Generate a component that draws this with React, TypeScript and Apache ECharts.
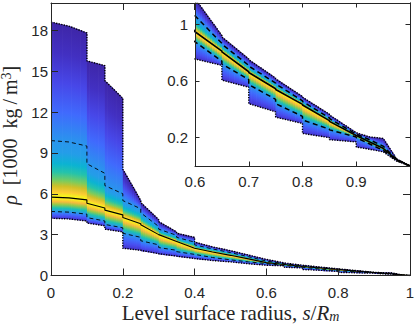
import React, { useEffect, useRef } from 'react';
import * as echarts from 'echarts';

// Level surface radius samples (duplicated x = step between radial bins)
const xs = [0, 0.05, 0.1, 0.1, 0.15, 0.15, 0.2, 0.2, 0.25, 0.25, 0.3, 0.3, 0.35, 0.35, 0.4, 0.4, 0.45, 0.5, 0.55, 0.6, 0.65, 0.65, 0.7, 0.7, 0.75, 0.75, 0.8, 0.8, 0.85, 0.85, 0.9, 0.9, 0.925, 0.95, 0.975, 1.0];
// density envelope and percentiles [1000 kg/m^3]
const rhoMax = [18.6, 18.3, 17.8, 15.75, 15.4, 14.3, 13.0, 7.8, 5.5, 5.35, 4.1, 3.95, 3.2, 3.1, 2.8, 2.45, 2.1, 1.82, 1.5, 1.18, 0.92, 0.91, 0.755, 0.75, 0.62, 0.615, 0.49, 0.485, 0.365, 0.36, 0.235, 0.232, 0.205, 0.195, 0.05, 0];
const rhoHi = [9.9, 9.8, 9.5, 8.2, 7.5, 6.6, 6.0, 5.5, 4.9, 4.6, 3.6, 3.4, 2.95, 2.8, 2.45, 2.25, 1.95, 1.68, 1.38, 1.06, 0.865, 0.86, 0.71, 0.705, 0.585, 0.58, 0.46, 0.455, 0.34, 0.335, 0.225, 0.222, 0.185, 0.14, 0.048, 0];
const rhoMed = [5.75, 5.7, 5.55, 5.3, 4.95, 4.8, 4.45, 4.25, 3.8, 3.72, 3.0, 2.95, 2.5, 2.45, 2.0, 1.97, 1.72, 1.48, 1.22, 0.947, 0.81, 0.805, 0.665, 0.66, 0.545, 0.54, 0.435, 0.43, 0.32, 0.315, 0.215, 0.212, 0.17, 0.125, 0.045, 0];
const rhoLo = [4.7, 4.65, 4.5, 4.25, 4.0, 3.75, 3.5, 3.1, 2.8, 2.55, 2.25, 2.05, 1.85, 1.75, 1.55, 1.5, 1.32, 1.15, 1.0, 0.876, 0.74, 0.72, 0.61, 0.575, 0.47, 0.44, 0.35, 0.325, 0.26, 0.255, 0.205, 0.2, 0.155, 0.11, 0.04, 0];
const rhoMin = [4.2, 4.15, 4.0, 3.85, 3.65, 3.4, 3.2, 2.0, 1.85, 1.8, 1.6, 1.55, 1.42, 1.38, 1.25, 1.22, 1.1, 1.0, 0.86, 0.755, 0.71, 0.606, 0.556, 0.44, 0.382, 0.345, 0.30, 0.23, 0.20, 0.186, 0.17, 0.134, 0.118, 0.10, 0.035, 0];

const xTicks = [0, 0.2, 0.4, 0.6, 0.8, 1];
const yTicks = [0, 3, 6, 9, 12, 15, 18];
const insetXTicks = [0.6, 0.7, 0.8, 0.9, 1];
const insetXLabels = [0.6, 0.7, 0.8, 0.9];
const insetYTicks = [0.2, 0.6, 1];

// parula colormap anchors (style)
const PARULA: [number, number[]][] = [
  [0.0, [62, 38, 168]], [0.063, [69, 55, 213]], [0.127, [72, 77, 240]], [0.19, [69, 99, 253]],
  [0.254, [50, 124, 252]], [0.317, [43, 145, 239]], [0.381, [32, 165, 227]], [0.444, [8, 181, 208]],
  [0.508, [25, 191, 182]], [0.571, [55, 200, 151]], [0.635, [100, 205, 111]], [0.698, [157, 201, 67]],
  [0.762, [209, 191, 39]], [0.825, [248, 186, 61]], [0.889, [252, 207, 48]], [0.952, [246, 239, 32]],
  [1.0, [249, 251, 21]],
];
function parula(t: number): string {
  t = Math.max(0, Math.min(1, t));
  for (let k = 0; k < PARULA.length - 1; k++) {
    const [t0, c0] = PARULA[k];
    const [t1, c1] = PARULA[k + 1];
    if (t <= t1) {
      const f = (t - t0) / (t1 - t0);
      const c = c0.map((v, j) => Math.round(v + (c1[j] - v) * f));
      return `rgb(${c[0]},${c[1]},${c[2]})`;
    }
  }
  return 'rgb(249,251,21)';
}

const T_TOP = 0.0, T_HI = 0.33, T_LO = 0.33, T_BOT = 0.05;
function buildStops(mx: number, ph: number, md: number, pl: number, mn: number) {
  const H = mx - mn;
  const stops: { offset: number; color: string }[] = [];
  const push = (v: number, t: number) => {
    const o = Math.max(0, Math.min(1, (mx - v) / H));
    stops.push({ offset: o, color: parula(t) });
  };
  for (const k of [0, 0.25, 0.5, 0.75]) push(mx - (mx - ph) * k, T_TOP + (T_HI - T_TOP) * Math.pow(k, 1.6));
  for (const k of [0, 0.2, 0.4, 0.55, 0.7, 0.8, 0.9, 0.96]) push(ph - (ph - md) * k, T_HI + (1 - T_HI) * Math.pow(k, 2));
  for (const k of [0, 0.15, 0.3, 0.5, 0.75]) push(md - (md - pl) * k, 1 - (1 - T_LO) * Math.pow(k, 1.1));
  for (const k of [0, 0.33, 0.66, 1]) push(pl - (pl - mn) * k, T_LO - (T_LO - T_BOT) * Math.pow(k, 0.8));
  return stops;
}

function renderBand(params: any, api: any) {
  const i = api.value(2);
  const x0 = xs[i], x1 = xs[i + 1];
  const p0 = api.coord([x0, 0]);
  const p1 = api.coord([x1, 0]);
  const n = Math.max(1, Math.ceil((p1[0] - p0[0]) / 2.5));
  const lerp = (arr: number[], f: number) => arr[i] + (arr[i + 1] - arr[i]) * f;
  const children: any[] = [];
  for (let j = 0; j < n; j++) {
    const fa = j / n, fb = (j + 1) / n, fm = (j + 0.5) / n;
    const xa = x0 + (x1 - x0) * fa, xb = x0 + (x1 - x0) * fb, xm = x0 + (x1 - x0) * fm;
    const A1 = api.coord([xa, lerp(rhoMax, fa)]);
    const B1 = api.coord([xb, lerp(rhoMax, fb)]);
    const B2 = api.coord([xb, lerp(rhoMin, fb)]);
    const A2 = api.coord([xa, lerp(rhoMin, fa)]);
    const mx = lerp(rhoMax, fm), ph = lerp(rhoHi, fm), md = lerp(rhoMed, fm), pl = lerp(rhoLo, fm), mn = lerp(rhoMin, fm);
    const T = api.coord([xm, mx]);
    const Bt = api.coord([xm, mn]);
    const ext = j < n - 1 ? 0.7 : 0.35;
    let fill: any;
    if (Bt[1] - T[1] < 0.5 || mx - mn <= 0) fill = parula(1);
    else fill = new echarts.graphic.LinearGradient(T[0], T[1], Bt[0], Bt[1], buildStops(mx, ph, md, pl, mn), true);
    children.push({
      type: 'polygon',
      shape: { points: [[A1[0], A1[1] - 0.2], [B1[0] + ext, B1[1] - 0.2], [B2[0] + ext, B2[1] + 0.2], [A2[0], A2[1] + 0.2]] },
      style: { fill },
    });
  }
  return { type: 'group', children };
}

const INK = '#262626';
const segs = xs.slice(0, -1).map((x, i) => i).filter((i) => xs[i + 1] > xs[i]);
const segData = (from: number) =>
  segs.filter((i) => xs[i + 1] > from).map((i) => [xs[i], xs[i + 1], i, Math.max(rhoMax[i], rhoMax[i + 1]), Math.min(rhoMin[i], rhoMin[i + 1])]);
const pts = (arr: number[]) => xs.map((x, i) => [x, arr[i]]);

function axis(len: number, z: number) {
  return {
    z,
    axisLine: { show: true, onZero: false, lineStyle: { color: INK, width: 1 } },
    axisTick: { show: true, inside: true, length: len, lineStyle: { color: INK, width: 1 } },
    splitLine: { show: false },
  };
}
const fmt = (v: number) => String(Math.round(v * 100) / 100);
const tickFont = { fontFamily: 'Liberation Sans', fontSize: 15, color: INK };

function lineSet(xi: number, yi: number, z: number, inset: boolean) {
  const dot = { color: '#000', width: 1.4, type: [1.3, 1.3] as any };
  const dash = { color: '#000', width: inset ? 1.5 : 0.9, type: (inset ? [5, 3.5] : [4, 3]) as any };
  const solid = { color: '#000', width: inset ? 1.6 : 1.1 };
  const mk = (arr: number[], ls: any) => ({
    type: 'line', xAxisIndex: xi, yAxisIndex: yi, z, data: pts(arr), showSymbol: false, symbol: 'none',
    lineStyle: ls, clip: true, silent: true,
  });
  return [mk(rhoMax, dot), mk(rhoMin, dot), mk(rhoHi, dash), mk(rhoLo, dash), mk(rhoMed, solid)];
}

export default function App() {
  const ref = useRef<HTMLDivElement>(null);
  useEffect(() => {
    if (!ref.current) return;
    const chart = echarts.init(ref.current, null, { renderer: 'svg' });
    const serif = 'Liberation Serif';
    chart.setOption({
      animation: false,
      backgroundColor: '#fff',
      grid: [
        { left: 51, top: 3, right: 5, bottom: 49.5, outerBoundsMode: 'none', z: 0 },
        { left: 195, top: 3, right: 5, bottom: 159, outerBoundsMode: 'none', show: true, backgroundColor: '#fff', borderWidth: 0, z: 10 },
      ],
      xAxis: [
        {
          ...axis(7, 4), gridIndex: 0, type: 'value', min: 0, max: 1, position: 'bottom',
          axisTick: { ...axis(7, 4).axisTick, customValues: xTicks },
          axisLabel: { ...tickFont, customValues: xTicks, formatter: fmt, margin: 9.5 },
          name: '{r|Level surface radius, }{i|s}{r|/}{i|R}{sub|m}',
          nameLocation: 'middle', nameGap: 26, nameMoveOverlap: false,
          nameTextStyle: {
            fontFamily: serif, fontSize: 21, color: INK,
            rich: {
              r: { fontFamily: serif, fontSize: 21, color: INK, lineHeight: 22 },
              i: { fontFamily: serif, fontSize: 21, color: INK, fontStyle: 'italic', lineHeight: 22 },
              sub: { fontFamily: serif, fontSize: 14, color: INK, fontStyle: 'italic', lineHeight: 14, verticalAlign: 'bottom' },
            },
          },
        },
        {
          ...axis(7, 4), gridIndex: 0, type: 'value', min: 0, max: 1, position: 'top',
          axisTick: { ...axis(7, 4).axisTick, customValues: xTicks },
          axisLabel: { show: false },
        },
        {
          ...axis(4.5, 13), gridIndex: 1, type: 'value', min: 0.6, max: 1, position: 'bottom',
          axisTick: { ...axis(4.5, 13).axisTick, customValues: insetXTicks },
          axisLabel: { ...tickFont, customValues: insetXLabels, formatter: fmt, margin: 8 },
        },
        {
          ...axis(4.5, 13), gridIndex: 1, type: 'value', min: 0.6, max: 1, position: 'top',
          axisTick: { ...axis(4.5, 13).axisTick, customValues: insetXTicks },
          axisLabel: { show: false },
        },
      ],
      yAxis: [
        {
          ...axis(7, 4), gridIndex: 0, type: 'value', min: 0, max: 20, position: 'left',
          axisTick: { ...axis(7, 4).axisTick, customValues: yTicks },
          axisLabel: { ...tickFont, customValues: yTicks, formatter: fmt, margin: 3 },
          name: '{i|ρ}{r|\u2002[1000\u2002kg\u2009/\u2009m}{sup|3}{r|]}',
          nameLocation: 'middle', nameRotate: 90, nameGap: 22,
          nameTextStyle: {
            fontFamily: serif, fontSize: 20, color: INK, padding: [0, 0, 0, 8],
            rich: {
              r: { fontFamily: serif, fontSize: 20, color: INK, lineHeight: 22 },
              i: { fontFamily: serif, fontSize: 20, color: INK, fontStyle: 'italic', lineHeight: 22 },
              sup: { fontFamily: serif, fontSize: 14, color: INK, lineHeight: 14, verticalAlign: 'top' },
            },
          },
        },
        {
          ...axis(7, 4), gridIndex: 0, type: 'value', min: 0, max: 20, position: 'right',
          axisTick: { ...axis(7, 4).axisTick, customValues: yTicks },
          axisLabel: { show: false },
        },
        {
          ...axis(4.5, 13), gridIndex: 1, type: 'value', min: 0, max: 1.15, position: 'left',
          axisTick: { ...axis(4.5, 13).axisTick, customValues: insetYTicks },
          axisLabel: { ...tickFont, customValues: insetYTicks, formatter: fmt, margin: 7 },
        },
        {
          ...axis(4.5, 13), gridIndex: 1, type: 'value', min: 0, max: 1.15, position: 'right',
          axisTick: { ...axis(4.5, 13).axisTick, customValues: insetYTicks },
          axisLabel: { show: false },
        },
      ],
      series: [
        {
          type: 'custom', xAxisIndex: 0, yAxisIndex: 0, z: 2, clip: true, silent: true,
          renderItem: renderBand, data: segData(-1), encode: { x: [0, 1], y: [3, 4] },
        },
        ...lineSet(0, 0, 3, false),
        {
          type: 'custom', xAxisIndex: 2, yAxisIndex: 2, z: 11, clip: true, silent: true,
          renderItem: renderBand, data: segData(0.6), encode: { x: [0, 1], y: [3, 4] },
        },
        ...lineSet(2, 2, 12, true),
      ],
    });
    return () => chart.dispose();
  }, []);
  return <div ref={ref} style={{ position: 'absolute', left: 0, top: 0, width: 415, height: 325 }} />;
}
